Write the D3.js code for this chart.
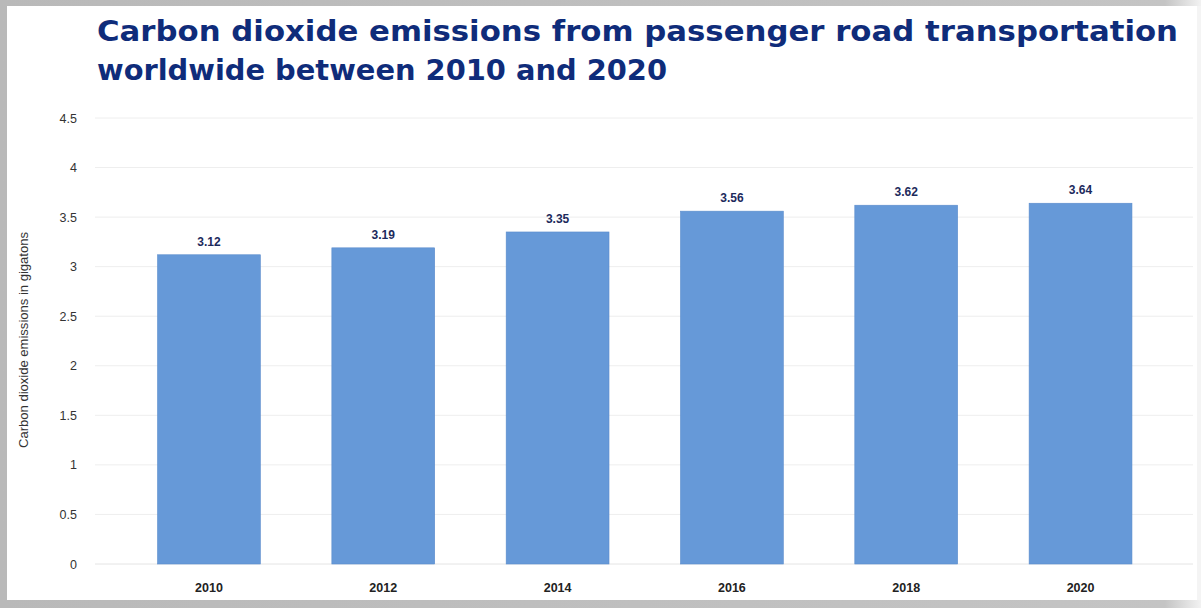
<!DOCTYPE html>
<html><head><meta charset="utf-8">
<script src="https://cdn.jsdelivr.net/npm/d3@7"></script>
<style>
html,body{margin:0;padding:0;background:#fff;}
svg{display:block;}
</style></head>
<body>
<svg id="chart" width="1201" height="608"></svg>
<script>
const years = ["2010","2012","2014","2016","2018","2020"];
const emissions = [3.12, 3.19, 3.35, 3.56, 3.62, 3.64];
const yTicks = [0, 0.5, 1, 1.5, 2, 2.5, 3, 3.5, 4, 4.5];
const titleLines = ["Carbon dioxide emissions from passenger road transportation", "worldwide between 2010 and 2020"];
const yLabel = "Carbon dioxide emissions in gigatons";

const svg = d3.select("#chart");
const W = 1201, H = 608;

// frame
const defs = svg.append("defs");
const g1 = defs.append("linearGradient").attr("id","topg").attr("x1","0").attr("x2","1");
g1.append("stop").attr("offset","0").attr("stop-color","#b9b9b9");
g1.append("stop").attr("offset","0.97").attr("stop-color","#c4c4c4");
g1.append("stop").attr("offset","1").attr("stop-color","#f2f2f2");
svg.append("rect").attr("width",W).attr("height",H).attr("fill","url(#topg)");
svg.append("rect").attr("x",7).attr("y",6).attr("width",1190).attr("height",594).attr("fill","#ffffff");
svg.append("rect").attr("x",1197).attr("y",6).attr("width",4).attr("height",594).attr("fill","#f4f4f4");

const y = d3.scaleLinear().domain([0, 4.5]).range([564, 118]);
const x = d3.scaleBand().domain(years).range([121.8, 1167.7]).paddingInner(0.41).paddingOuter(0.205);

// gridlines
svg.append("g").selectAll("line").data(yTicks).join("line")
  .attr("x1", 95).attr("x2", 1193)
  .attr("y1", d => y(d)).attr("y2", d => y(d))
  .attr("stroke", d => d === 0 ? "#e4e4e4" : "#eeeeee").attr("stroke-width", 1);

// y axis labels
const yAxis = d3.axisLeft(y).tickValues(yTicks).tickSize(0).tickPadding(0).tickFormat(d => String(d));
const ya = svg.append("g").attr("transform","translate(77,0)").call(yAxis);
ya.select(".domain").remove();
ya.selectAll("text").attr("font-family","'Liberation Sans', Arial, sans-serif").attr("font-size",12.5).attr("fill","#333");

// x axis labels
const xAxis = d3.axisBottom(x).tickSize(0).tickPadding(0);
const xa = svg.append("g").attr("transform","translate(0,583)").call(xAxis);
xa.select(".domain").remove();
xa.selectAll("text").attr("font-family","'Liberation Sans', Arial, sans-serif").attr("font-size",12.5).attr("font-weight","bold").attr("fill","#222");

// bars
svg.append("g").selectAll("rect").data(years).join("rect")
  .attr("x", d => x(d)).attr("width", x.bandwidth())
  .attr("y", (d,i) => y(emissions[i])).attr("height", (d,i) => y(0) - y(emissions[i]))
  .attr("fill", "#6699d8").attr("stroke","#5b8ccc").attr("stroke-width",0.6);

// value labels
svg.append("g").selectAll("text").data(years).join("text")
  .attr("x", d => x(d) + x.bandwidth()/2).attr("y", (d,i) => y(emissions[i]) - 9)
  .attr("text-anchor","middle").attr("font-family","'Liberation Sans', Arial, sans-serif")
  .attr("font-size",12).attr("font-weight","bold").attr("fill","#1c2a5c")
  .text((d,i) => emissions[i].toFixed(2));

// y label
svg.append("text").attr("transform","translate(28,340) rotate(-90)")
  .attr("text-anchor","middle").attr("font-family","'Liberation Sans', Arial, sans-serif")
  .attr("font-size",13).attr("fill","#333").attr("textLength",216).attr("lengthAdjust","spacingAndGlyphs").text(yLabel);

// title
const tl = [{t:titleLines[0], y:41, w:1081},{t:titleLines[1], y:80, w:570}];
svg.append("g").selectAll("text").data(tl).join("text")
  .attr("x",97).attr("y",d=>d.y)
  .attr("font-family","'DejaVu Sans', sans-serif").attr("font-weight","bold").attr("font-size",28)
  .attr("fill","#0f2c7a").attr("textLength",d=>d.w).attr("lengthAdjust","spacingAndGlyphs")
  .text(d=>d.t);
</script>
</body></html>
